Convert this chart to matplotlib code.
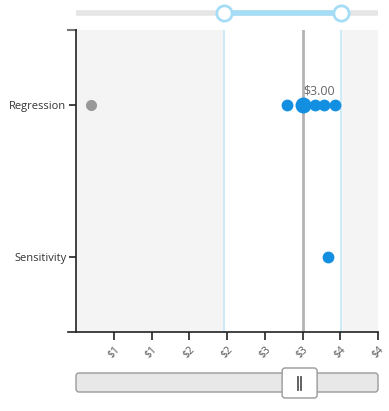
import matplotlib
matplotlib.use("Agg")
import matplotlib.pyplot as plt
from matplotlib.patches import FancyBboxPatch

plt.rcParams['font.family'] = ['Open Sans', 'DejaVu Sans']

# data
categories = ["Regression", "Sensitivity"]
reg_in = [2.79, 3.17, 3.28, 3.43]
reg_sel = 3.0
reg_out = [0.2]
sens_in = [3.34]
range_lo, range_hi = 1.96, 3.51
tick_vals = [0.5, 1.0, 1.5, 2.0, 2.5, 3.0, 3.5, 4.0]
tick_labels = ["$1", "$1", "$2", "$2", "$3", "$3", "$4", "$4"]
sel_label = "$3.00"
handle_pos = 2.73

W, H = 389, 411
fig = plt.figure(figsize=(W / 100, H / 100), dpi=100)

L, R, T, B = 76, 378, 30, 332
ax = fig.add_axes([L / W, 1 - B / H, (R - L) / W, (B - T) / H])
ax.set_xlim(0, 4)
ax.set_ylim(1.5, -0.5)
ax.set_facecolor('#f4f4f4')
ax.axvspan(range_lo, range_hi, color='white', zorder=0)
ax.axvline(range_lo, color='#c6e6f8', lw=1.2, zorder=1)
ax.axvline(range_hi, color='#c6e6f8', lw=1.2, zorder=1)
ax.axvline(reg_sel, color='#b3b3b3', lw=2, zorder=1)

ax.plot(reg_out, [0] * len(reg_out), 'o', ms=8, color='#999999', mec='none', zorder=3)
ax.plot(reg_in, [0] * len(reg_in), 'o', ms=8.5, color='#138fe1', mec='none', zorder=3)
ax.plot([reg_sel], [0], 'o', ms=11.5, color='#138fe1', mec='none', zorder=4)
ax.plot(sens_in, [1] * len(sens_in), 'o', ms=8.5, color='#138fe1', mec='none', zorder=3)
ax.text(reg_sel + 0.22, -0.055, sel_label, ha='center', va='bottom', fontsize=9, color='#666666')

for s in ['top', 'right']:
    ax.spines[s].set_visible(False)
ax.spines['left'].set_color('#222222')
ax.spines['bottom'].set_color('#222222')
ax.spines['left'].set_linewidth(1.2)
ax.spines['bottom'].set_linewidth(1.2)
ax.spines['bottom'].set_bounds(-0.1, 4)
# small end tick at top of y axis
ax.plot([-0.1, 0], [-0.5, -0.5], color='#777777', lw=1.5, clip_on=False)

ax.set_yticks([0, 1])
ax.set_yticklabels(categories, fontsize=8, color='#333333')
ax.tick_params(axis='y', length=5, color='#222222', width=1.2, pad=2)
ax.set_xticks(tick_vals)
ax.set_xticklabels(tick_labels, fontsize=7.5, color='#555555', rotation=45,
                   ha='center', va='top')
ax.tick_params(axis='x', length=6, color='#222222', width=1.2, pad=3)

# top range slider
sl = fig.add_axes([L / W, 1 - 26 / H, (R - L) / W, 26 / H])
sl.set_xlim(0, 4)
sl.set_ylim(26, 0)
sl.axis('off')
sl.plot([0, 4], [13, 13], color='#e6e6e6', lw=4, solid_capstyle='round')
sl.plot([range_lo, range_hi], [13, 13], color='#a6ddf6', lw=4)
sl.plot([range_lo, range_hi], [13, 13], 'o', ms=11, mfc='white', mec='#a6ddf6', mew=2, clip_on=False)

# bottom scroll slider
bs = fig.add_axes([0, 0, 1, 1])
bs.set_xlim(0, W)
bs.set_ylim(H, 0)
bs.axis('off')
bs.add_patch(FancyBboxPatch((L, 373), R - L, 19, boxstyle='round,pad=0,rounding_size=3',
                            fc='#e8e8e8', ec='#9a9a9a', lw=1))
hx = L + handle_pos / 4 * (R - L)
bs.add_patch(FancyBboxPatch((hx, 368), 35, 30, boxstyle='round,pad=0,rounding_size=3',
                            fc='white', ec='#999999', lw=1))
bs.plot([hx + 15.5, hx + 15.5], [377, 390], color='#555555', lw=1.3)
bs.plot([hx + 18.5, hx + 18.5], [377, 390], color='#555555', lw=1.3)

fig.savefig('out.png', dpi=100)
